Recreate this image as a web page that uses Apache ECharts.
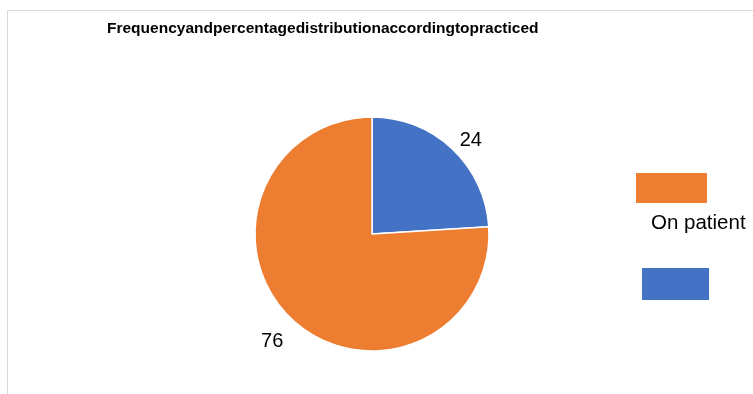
<!DOCTYPE html>
<html><head><meta charset="utf-8">
<script src="https://cdn.jsdelivr.net/npm/echarts@6/dist/echarts.min.js"></script>
<style>html,body{margin:0;padding:0;background:#fff}#c{width:753px;height:394px}</style>
</head><body><div id="c"></div>
<script>
const titleText = 'Frequencyandpercentagedistributionaccordingtopracticed';
const categories = ['Other', 'On patient'];
const values = [24, 76];
const colors = ['#4472C4', '#ED7D31'];

const chart = echarts.init(document.getElementById('c'), null, {renderer: 'canvas'});
chart.setOption({
  animation: false,
  backgroundColor: '#fff',
  title: {
    text: titleText, left: 102, top: 16,
    textStyle: {fontFamily: 'Liberation Sans', fontWeight: 'bold', fontSize: 15.5, color: '#000'}
  },
  graphic: [
    {type: 'rect', left: 5, top: 8, shape: {width: 800, height: 420}, style: {fill: 'none', stroke: '#d9d9d9', lineWidth: 1}, silent: true},
    {type: 'text', left: 651, top: 213, style: {text: categories[1], fontFamily: 'Liberation Sans', fontSize: 20.5, fill: '#000'}}
  ],
  legend: [
    {data: [categories[1]], left: 634, top: 171, padding: 0, itemWidth: 73, itemHeight: 32, icon: 'rect', formatter: () => '', selectedMode: false, itemGap: 0},
    {data: [categories[0]], left: 640, top: 266, padding: 0, itemWidth: 69, itemHeight: 34, icon: 'rect', formatter: () => '', selectedMode: false, itemGap: 0}
  ],
  series: [{
    type: 'pie',
    center: [372, 234],
    radius: 117,
    startAngle: 90,
    clockwise: true,
    data: categories.map((n, i) => ({name: n, value: values[i], itemStyle: {color: colors[i]}})),
    itemStyle: {borderColor: '#fff', borderWidth: 1.5},
    label: {show: true, position: 'outside', formatter: '{c}', fontFamily: 'Liberation Sans', fontSize: 20, color: '#000'},
    labelLine: {show: false, length: 14, length2: 0},
    labelLayout: p => (p.dataIndex === 0 ? {dx: -7, dy: 2} : {dx: 6, dy: 12}),
    emphasis: {disabled: true}
  }]
});
</script></body></html>
